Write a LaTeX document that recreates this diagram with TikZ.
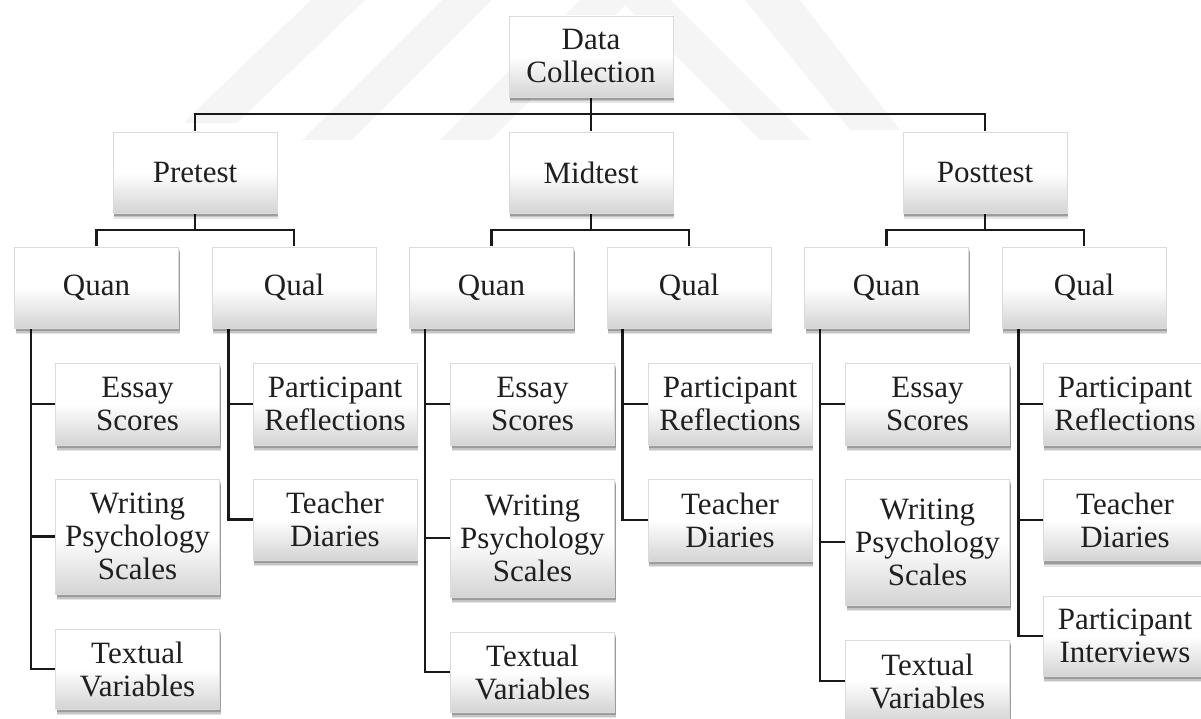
\documentclass[tikz,border=0pt]{standalone}
\usepackage{fontspec}
\setmainfont{Liberation Serif}
\usetikzlibrary{shadows,backgrounds}
\tikzset{
  box/.style={rectangle, draw=black!14, line width=0.6pt,
    top color=white, bottom color=black!17, middle color=white,
    minimum width=164pt, minimum height=81pt, inner sep=0pt, align=center,
    font=\fontsize{31}{33}\selectfont, text=black!88,
    drop shadow={shadow xshift=1pt, shadow yshift=-6pt, opacity=0.10, fill=black},
    drop shadow={shadow xshift=1pt, shadow yshift=-4.5pt, opacity=0.14, fill=black},
    drop shadow={shadow xshift=1pt, shadow yshift=-3pt, opacity=0.2, fill=black}},
  conn/.style={line width=2.5pt, draw=black!90},
  wm/.style={fill=black!4, draw=none}
}
\begin{document}
\begin{tikzpicture}[x=1pt,y=-1pt]
\useasboundingbox (0,0) rectangle (1201,719);
\begin{scope}[on background layer]
  \fill[white] (0,0) rectangle (1201,719);
  \fill[wm] (183,123) -- (237,123) -- (365,0) -- (311,0) -- cycle;
  \fill[wm] (302,140) -- (352,140) -- (492,0) -- (442,0) -- cycle;
  \fill[wm] (440,140) -- (490,140) -- (630,0) -- (580,0) -- cycle;
  \fill[wm] (620,0) -- (670,0) -- (810,140) -- (760,140) -- cycle;
  \fill[wm] (745,0) -- (800,0) -- (900,130) -- (850,130) -- cycle;
\end{scope}
\clip (0,0) rectangle (1201,719);
\coordinate (bus0) at (0,114);
\coordinate (bus1) at (0,230);
% top levels
\node[box] (dc) at (591,56.5) {Data\\Collection};
\node[box] (pre) at (195,172.5) {Pretest};
\node[box] (mid) at (591,172.5) {Midtest};
\node[box] (post) at (985,172.5) {Posttest};
% pretest
\node[box] (pqn) at (96.5,287.5) {Quan};
\node[box] (pql) at (294,287.5) {Qual};
\node[box, minimum height=82pt] (pes) at (137.5,404) {Essay\\Scores};
\node[box, minimum height=115pt] (pwr) at (137.5,536.5) {Writing\\Psychology\\Scales};
\node[box, minimum height=80pt] (ptx) at (137.5,669) {Textual\\Variables};
\node[box, minimum height=82pt] (pref) at (335,404) {Participant\\Reflections};
\node[box] (pte) at (335,519.5) {Teacher\\Diaries};
% midtest
\node[box] (mqn) at (491.5,287.5) {Quan};
\node[box] (mql) at (689,287.5) {Qual};
\node[box, minimum height=82pt] (mes) at (532.5,404) {Essay\\Scores};
\node[box, minimum height=118pt] (mwr) at (532.5,538) {Writing\\Psychology\\Scales};
\node[box, minimum height=80pt] (mtx) at (532.5,672) {Textual\\Variables};
\node[box, minimum height=82pt] (mref) at (730,404) {Participant\\Reflections};
\node[box, minimum height=82pt] (mte) at (730,520) {Teacher\\Diaries};
% posttest
\node[box] (tqn) at (886.5,287.5) {Quan};
\node[box] (tql) at (1084,287.5) {Qual};
\node[box, minimum height=82pt] (tes) at (927.5,404) {Essay\\Scores};
\node[box, minimum height=126pt] (twr) at (927.5,542) {Writing\\Psychology\\Scales};
\node[box, minimum height=82pt] (ttx) at (927.5,681) {Textual\\Variables};
\node[box, minimum height=82pt] (tref) at (1125,404) {Participant\\Reflections};
\node[box] (tte) at (1125,520) {Teacher\\Diaries};
\node[box, minimum height=80pt] (tint) at (1125,636) {Participant\\Interviews};
% connectors
\begin{scope}[on background layer]
  \draw[conn] (dc.south) -- (mid.north);
  \draw[conn] (dc.south |- bus0) -| (pre.north);
  \draw[conn] (dc.south |- bus0) -| (post.north);
  \draw[conn] (pre.south) -- (pre.south |- bus1) -| (pqn.north);
  \draw[conn] (pre.south |- bus1) -| (pql.north);
  \draw[conn] (mid.south) -- (mid.south |- bus1) -| (mqn.north);
  \draw[conn] (mid.south |- bus1) -| (mql.north);
  \draw[conn] (post.south) -- (post.south |- bus1) -| (tqn.north);
  \draw[conn] (post.south |- bus1) -| (tql.north);
  \draw[conn] ([xshift=17pt]pqn.south west) |- (pes.west);
  \draw[conn] ([xshift=17pt]pqn.south west) |- (pwr.west);
  \draw[conn] ([xshift=17pt]pqn.south west) |- (ptx.west);
  \draw[conn] ([xshift=17pt]pql.south west) |- (pref.west);
  \draw[conn] ([xshift=17pt]pql.south west) |- (pte.west);
  \draw[conn] ([xshift=16pt]mqn.south west) |- (mes.west);
  \draw[conn] ([xshift=16pt]mqn.south west) |- (mwr.west);
  \draw[conn] ([xshift=16pt]mqn.south west) |- (mtx.west);
  \draw[conn] ([xshift=16pt]mql.south west) |- (mref.west);
  \draw[conn] ([xshift=16pt]mql.south west) |- (mte.west);
  \draw[conn] ([xshift=16pt]tqn.south west) |- (tes.west);
  \draw[conn] ([xshift=16pt]tqn.south west) |- (twr.west);
  \draw[conn] ([xshift=16pt]tqn.south west) |- (ttx.west);
  \draw[conn] ([xshift=17pt]tql.south west) |- (tref.west);
  \draw[conn] ([xshift=17pt]tql.south west) |- (tte.west);
  \draw[conn] ([xshift=17pt]tql.south west) |- (tint.west);
\end{scope}
\end{tikzpicture}
\end{document}
